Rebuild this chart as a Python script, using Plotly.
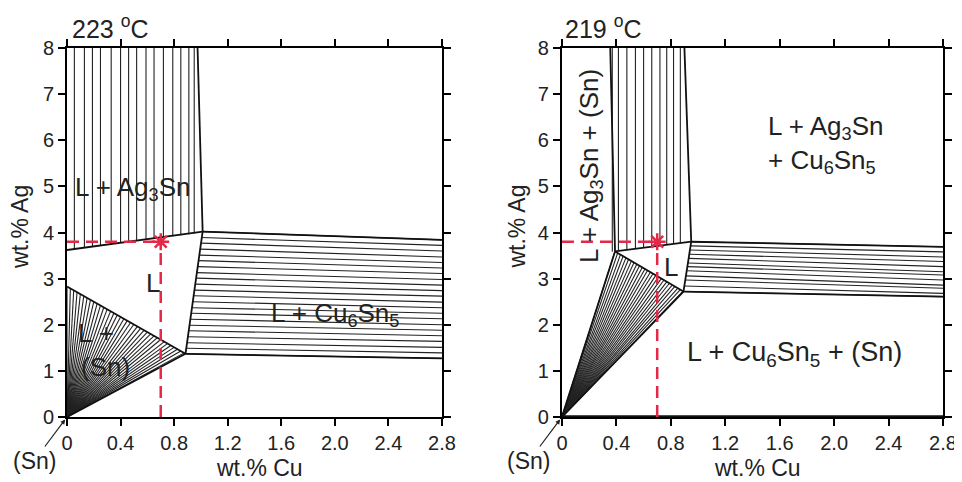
import plotly.graph_objects as go

# ---------------- data: 223 C section ----------------
title_223 = "223 <sup>o</sup>C"
ag3sn_tie_x_223 = [0.055, 0.13, 0.19, 0.25, 0.33, 0.40, 0.46, 0.52, 0.59, 0.65, 0.72, 0.79, 0.85, 0.91, 0.95]
ag3sn_tie_ybot_223 = [3.64, 3.67, 3.69, 3.71, 3.74, 3.77, 3.79, 3.82, 3.84, 3.86, 3.89, 3.92, 3.94, 3.96, 3.98]
ag3sn_tie_ytop = 8.0

sn_tie_x_223 = [0.000, 0.025, 0.050, 0.075, 0.100, 0.125, 0.150, 0.175, 0.200, 0.225, 0.250, 0.275,
                0.300, 0.325, 0.350, 0.375, 0.400, 0.425, 0.450, 0.475, 0.500, 0.525, 0.550, 0.575,
                0.600, 0.625, 0.650, 0.675, 0.700, 0.725, 0.750, 0.775, 0.800, 0.825, 0.850, 0.875]
sn_tie_y_223 = [2.83, 2.79, 2.75, 2.71, 2.67, 2.62, 2.58, 2.54, 2.50, 2.46, 2.42, 2.38,
                2.34, 2.29, 2.25, 2.21, 2.17, 2.13, 2.09, 2.05, 2.01, 1.96, 1.92, 1.88,
                1.84, 1.80, 1.76, 1.72, 1.68, 1.63, 1.59, 1.55, 1.51, 1.47, 1.43, 1.39]

cu_tie_xl_223 = [1.013, 1.007, 1.001, 0.995, 0.988, 0.983, 0.976, 0.970, 0.964, 0.958, 0.952,
                 0.946, 0.940, 0.934, 0.928, 0.921, 0.915, 0.909, 0.903, 0.897, 0.891, 0.885]
cu_tie_yl_223 = [4.02, 3.89, 3.77, 3.64, 3.51, 3.39, 3.26, 3.13, 3.01, 2.88, 2.75,
                 2.63, 2.50, 2.37, 2.25, 2.12, 1.99, 1.87, 1.74, 1.61, 1.49, 1.37]
cu_tie_yr_223 = [3.84, 3.72, 3.60, 3.47, 3.35, 3.23, 3.11, 2.98, 2.86, 2.74, 2.62,
                 2.49, 2.37, 2.25, 2.13, 2.00, 1.88, 1.76, 1.64, 1.51, 1.39, 1.27]
cu_tie_xr = 2.8

# boundary polylines (223 C)
bnd_223 = [
    ([0.0, 1.013], [3.62, 4.02]),          # L / L+Ag3Sn
    ([0.975, 1.013], [8.0, 4.02]),         # L+Ag3Sn right edge
    ([1.013, 2.8], [4.02, 3.84]),          # L+Cu6Sn5 top
    ([1.013, 0.885], [4.02, 1.37]),        # L / L+Cu6Sn5
    ([0.885, 2.8], [1.37, 1.27]),          # L+Cu6Sn5 bottom
    ([0.0, 0.885], [2.83, 1.37]),          # L / L+(Sn)
    ([0.0, 0.885], [0.0, 1.37]),           # L+(Sn) lower edge
]

# ---------------- data: 219 C section ----------------
title_219 = "219 <sup>o</sup>C"
ag3sn_tie_x_219 = [0.37, 0.415, 0.477, 0.54, 0.60, 0.66, 0.72, 0.77, 0.82, 0.87]
ag3sn_tie_ybot_219 = [3.58, 3.60, 3.62, 3.65, 3.67, 3.69, 3.71, 3.73, 3.75, 3.77]

sn_tie_x_219 = [0.39, 0.41, 0.43, 0.45, 0.47, 0.49, 0.51, 0.53, 0.55, 0.57, 0.59, 0.61, 0.63,
                0.65, 0.67, 0.69, 0.71, 0.73, 0.75, 0.77, 0.79, 0.81, 0.83, 0.85, 0.87, 0.89]
sn_tie_y_219 = [3.59, 3.56, 3.52, 3.49, 3.45, 3.42, 3.38, 3.35, 3.31, 3.28, 3.24, 3.21, 3.18,
                3.14, 3.11, 3.07, 3.04, 3.00, 2.97, 2.93, 2.90, 2.86, 2.83, 2.79, 2.76, 2.73]

cu_tie_xl_219 = [0.950, 0.945, 0.941, 0.936, 0.931, 0.926, 0.921, 0.917, 0.911, 0.906, 0.899, 0.893]
cu_tie_yl_219 = [3.80, 3.71, 3.62, 3.53, 3.44, 3.34, 3.26, 3.17, 3.06, 2.97, 2.84, 2.72]
cu_tie_yr_219 = [3.69, 3.58, 3.47, 3.37, 3.26, 3.15, 3.08, 2.97, 2.86, 2.79, 2.68, 2.61]

bnd_219 = [
    ([0.355, 0.39], [8.0, 3.59]),          # L+Ag3Sn left edge
    ([0.39, 0.95], [3.59, 3.80]),          # L / L+Ag3Sn
    ([0.90, 0.95], [8.0, 3.80]),           # L+Ag3Sn right edge
    ([0.95, 2.8], [3.80, 3.69]),           # L+Cu6Sn5 top
    ([0.95, 0.893], [3.80, 2.72]),         # L / L+Cu6Sn5
    ([0.39, 0.893], [3.59, 2.72]),         # L / L+(Sn)
    ([0.0, 0.39], [0.0, 3.59]),            # L+(Sn) upper edge
    ([0.0, 0.893], [0.0, 2.72]),           # L+(Sn) lower edge
    ([0.893, 2.8], [2.72, 2.61]),          # L+Cu6Sn5 bottom
    ([0.0, 2.8], [0.02, 0.02]),            # (Sn)+Cu6Sn5 edge
]

# alloy composition Sn-3.8Ag-0.7Cu
alloy_cu = 0.7
alloy_ag = 3.8

x_ticks = [0, 0.4, 0.8, 1.2, 1.6, 2.0, 2.4, 2.8]
x_ticktext = ["0", "0.4", "0.8", "1.2", "1.6", "2.0", "2.4", "2.8"]
y_ticks = [0, 1, 2, 3, 4, 5, 6, 7, 8]

FONT = "Liberation Sans, Arial, Helvetica, sans-serif"
TIE = "#222222"
RED = "rgb(228,40,72)"


def segs(x0s, y0s, x1s, y1s):
    xs, ys = [], []
    for a, b, c, d in zip(x0s, y0s, x1s, y1s):
        xs += [a, c, None]
        ys += [b, d, None]
    return xs, ys


fig = go.Figure()


def add_panel(xa, ya, ag_x, ag_yb, sn_x, sn_y, cu_xl, cu_yl, cu_yr, bnds):
    xs, ys = segs(ag_x, ag_yb, ag_x, [ag3sn_tie_ytop] * len(ag_x))
    fig.add_trace(go.Scatter(x=xs, y=ys, mode="lines", line=dict(color=TIE, width=1.1),
                             xaxis=xa, yaxis=ya, hoverinfo="skip", showlegend=False))
    xs, ys = segs([0.0] * len(sn_x), [0.0] * len(sn_x), sn_x, sn_y)
    fig.add_trace(go.Scatter(x=xs, y=ys, mode="lines", line=dict(color=TIE, width=1.1),
                             xaxis=xa, yaxis=ya, hoverinfo="skip", showlegend=False))
    xs, ys = segs(cu_xl, cu_yl, [cu_tie_xr] * len(cu_xl), cu_yr)
    fig.add_trace(go.Scatter(x=xs, y=ys, mode="lines", line=dict(color=TIE, width=1.1),
                             xaxis=xa, yaxis=ya, hoverinfo="skip", showlegend=False))
    for bx, by in bnds:
        fig.add_trace(go.Scatter(x=bx, y=by, mode="lines", line=dict(color="#111", width=1.8),
                                 xaxis=xa, yaxis=ya, hoverinfo="skip", showlegend=False))
    fig.add_trace(go.Scatter(x=[0, alloy_cu], y=[alloy_ag, alloy_ag], mode="lines",
                             line=dict(color=RED, width=2.5, dash="12px,7px"),
                             xaxis=xa, yaxis=ya, hoverinfo="skip", showlegend=False))
    fig.add_trace(go.Scatter(x=[alloy_cu, alloy_cu], y=[0, alloy_ag], mode="lines",
                             line=dict(color=RED, width=2.5, dash="12px,7px"),
                             xaxis=xa, yaxis=ya, hoverinfo="skip", showlegend=False))
    fig.add_trace(go.Scatter(x=[alloy_cu], y=[alloy_ag], mode="markers",
                             marker=dict(symbol="asterisk-open", size=14, color=RED,
                                         line=dict(color=RED, width=2.5)),
                             xaxis=xa, yaxis=ya, hoverinfo="skip", showlegend=False))


add_panel("x", "y", ag3sn_tie_x_223, ag3sn_tie_ybot_223, sn_tie_x_223, sn_tie_y_223,
          cu_tie_xl_223, cu_tie_yl_223, cu_tie_yr_223, bnd_223)
add_panel("x2", "y2", ag3sn_tie_x_219, ag3sn_tie_ybot_219, sn_tie_x_219, sn_tie_y_219,
          cu_tie_xl_219, cu_tie_yl_219, cu_tie_yr_219, bnd_219)

axis_common = dict(showline=True, linecolor="black", linewidth=2, mirror="ticks",
                   ticks="outside", ticklen=7, tickwidth=1.5, tickcolor="black",
                   showgrid=False, zeroline=False, automargin=False,
                   ticklabeloverflow="allow",
                   tickfont=dict(family=FONT, size=20, color="#222"))

# page body adds an 8px offset; figure sized so plot area sits at x 67-943, y 48-417
fig.update_layout(
    width=954, height=474,
    margin=dict(l=59, r=19, t=40, b=65),
    paper_bgcolor="white", plot_bgcolor="white",
    showlegend=False,
    xaxis=dict(domain=[0, 0.428], range=[0, 2.8], anchor="y",
               tickvals=x_ticks, ticktext=x_ticktext, **axis_common),
    yaxis=dict(domain=[0, 1], range=[0, 8], anchor="x", tickvals=y_ticks, **axis_common),
    xaxis2=dict(domain=[0.565, 1], range=[0, 2.8], anchor="y2",
                tickvals=x_ticks, ticktext=x_ticktext, **axis_common),
    yaxis2=dict(domain=[0, 1], range=[0, 8], anchor="x2", tickvals=y_ticks, **axis_common),
)

LBL = dict(family=FONT, size=23, color="#222")
TTL = dict(family=FONT, size=25, color="#222")
REG = dict(family=FONT, size=26, color="#222")
ann = []
ann.append(dict(text=title_223, x=0.003, y=1.058, xref="paper", yref="paper",
                xanchor="left", yanchor="middle", showarrow=False, font=TTL))
ann.append(dict(text=title_219, x=0.566, y=1.058, xref="paper", yref="paper",
                xanchor="left", yanchor="middle", showarrow=False, font=TTL))
for xp in (0.2203, 0.7877):
    ann.append(dict(text="wt.% Cu", x=xp, y=-0.138, xref="paper", yref="paper",
                    xanchor="center", yanchor="middle", showarrow=False, font=LBL))
for xp in (-0.0537, 0.5133):
    ann.append(dict(text="wt.% Ag", x=xp, y=0.515, xref="paper", yref="paper",
                    xanchor="center", yanchor="middle", showarrow=False, font=LBL,
                    textangle=-90))
for xr, yr in (("x", "y"), ("x2", "y2")):
    ann.append(dict(text="(Sn)", x=0, y=0, xref=xr, yref=yr, showarrow=True,
                    ax=-33, ay=44, arrowhead=2, arrowsize=0.8, arrowwidth=1.2,
                    arrowcolor="#222", standoff=3, font=LBL))
ann += [
    dict(text="L + Ag<sub>3</sub>Sn", x=0.49, y=4.95, xref="x", yref="y", showarrow=False, font=REG),
    dict(text="L", x=0.64, y=2.9, xref="x", yref="y", showarrow=False, font=REG),
    dict(text="L + Cu<sub>6</sub>Sn<sub>5</sub>", x=2.0, y=2.22, xref="x", yref="y", showarrow=False, font=REG),
    dict(text="L +", x=0.22, y=1.82, xref="x", yref="y", showarrow=False, font=REG),
    dict(text="(Sn)", x=0.29, y=1.09, xref="x", yref="y", showarrow=False, font=REG),
]
ann += [
    dict(text="L + Ag<sub>3</sub>Sn + (Sn)", x=0.21, y=5.43, xref="x2", yref="y2",
         showarrow=False, font=REG, textangle=-90),
    dict(text="L + Ag<sub>3</sub>Sn<br>+ Cu<sub>6</sub>Sn<sub>5</sub>", x=1.50, y=5.9,
         xref="x2", yref="y2", xanchor="left", align="left", showarrow=False, font=REG),
    dict(text="L", x=0.8, y=3.26, xref="x2", yref="y2", showarrow=False, font=REG),
    dict(text="L + Cu<sub>6</sub>Sn<sub>5</sub> + (Sn)", x=1.71, y=1.36, xref="x2", yref="y2",
         showarrow=False, font=dict(family=FONT, size=27, color="#222")),
]
fig.update_layout(annotations=ann)

fig.write_html("out.html")
